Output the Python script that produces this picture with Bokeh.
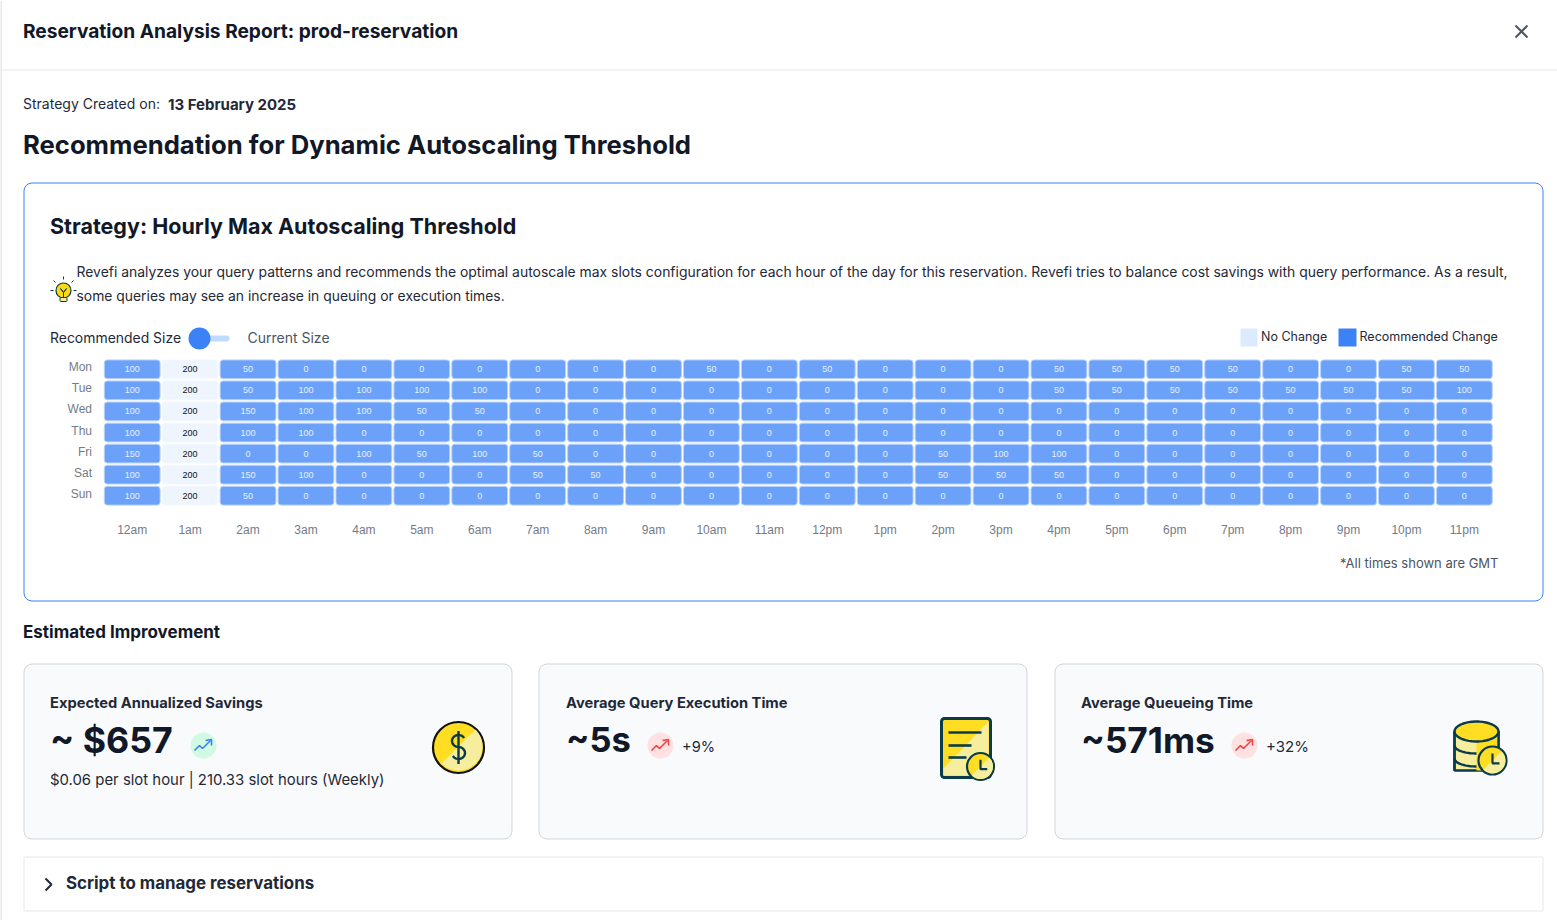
import numpy as np
from bokeh.core.properties import value
from bokeh.embed import file_html
from bokeh.resources import INLINE
from bokeh.plotting import figure
from bokeh.models import (BoxAnnotation, ColumnDataSource, FixedTicker, Label, LinearAxis,
                          PolyAnnotation, Range1d)
from bokeh.transform import dodge

# ---------- data ----------
hours = ["12am", "1am", "2am", "3am", "4am", "5am", "6am", "7am", "8am", "9am", "10am", "11am",
         "12pm", "1pm", "2pm", "3pm", "4pm", "5pm", "6pm", "7pm", "8pm", "9pm", "10pm", "11pm"]
days = ["Mon", "Tue", "Wed", "Thu", "Fri", "Sat", "Sun"]
mon = [100, 200, 50, 0, 0, 0, 0, 0, 0, 0, 50, 0, 50, 0, 0, 0, 50, 50, 50, 50, 0, 0, 50, 50]
tue = [100, 200, 50, 100, 100, 100, 100, 0, 0, 0, 0, 0, 0, 0, 0, 0, 50, 50, 50, 50, 50, 50, 50, 100]
wed = [100, 200, 150, 100, 100, 50, 50, 0, 0, 0, 0, 0, 0, 0, 0, 0, 0, 0, 0, 0, 0, 0, 0, 0]
thu = [100, 200, 100, 100, 0, 0, 0, 0, 0, 0, 0, 0, 0, 0, 0, 0, 0, 0, 0, 0, 0, 0, 0, 0]
fri = [150, 200, 0, 0, 100, 50, 100, 50, 0, 0, 0, 0, 0, 0, 50, 100, 100, 0, 0, 0, 0, 0, 0, 0]
sat = [100, 200, 150, 100, 0, 0, 0, 50, 50, 0, 0, 0, 0, 0, 50, 50, 50, 0, 0, 0, 0, 0, 0, 0]
sun = [100, 200, 50, 0, 0, 0, 0, 0, 0, 0, 0, 0, 0, 0, 0, 0, 0, 0, 0, 0, 0, 0, 0, 0]
no_change_hours = ["1am"]

FONT = "Inter"
INK = "#111827"
DARK = "#1f2937"
GREY = "#4b5563"
BLUE = "#3b82f6"
TEAL = "#0b3b4a"
YEL = "#ffdd22"
PALE = "#f6ee9c"

rows = [mon, tue, wed, thu, fri, sat, sun]
rec = dict(col=[], row=[], value=[], label=[], fill=[], edge=[], ink=[])
for j, row in enumerate(rows):
    for i, (hour, v) in enumerate(zip(hours, row)):
        same = hour in no_change_hours
        rec["col"].append(i)
        rec["row"].append(j)
        rec["value"].append(v)
        rec["label"].append(str(v))
        rec["fill"].append("#eef5ff" if same else "#6ba1f8")
        rec["edge"].append("#f4f8ff" if same else "#b9d2fb")
        rec["ink"].append("#111111" if same else "#e8f1ff")
source = ColumnDataSource(rec)

W, H = 1557, 920
COL0, COLW = 131.7, 57.92   # first column centre, column pitch
ROW0, ROWH = 368.8, 21.07   # first row centre, row pitch

p = figure(width=W, height=H, output_backend="svg", toolbar_location=None,
           x_range=Range1d(0, W), y_range=Range1d(H, 0),
           x_axis_type=None, y_axis_type=None,
           min_border=0, min_border_left=0, min_border_right=0, min_border_top=0, min_border_bottom=0,
           outline_line_color=None, background_fill_color="white", border_fill_color="white")
p.grid.visible = False
p.extra_x_ranges["hour"] = Range1d((0 - COL0) / COLW, (W - COL0) / COLW)
p.extra_y_ranges["day"] = Range1d((H - ROW0) / ROWH, (0 - ROW0) / ROWH)
LABEL_LIFT = 2.0
p.extra_y_ranges["day_label"] = Range1d((H - ROW0 + LABEL_LIFT) / ROWH, (0 - ROW0 + LABEL_LIFT) / ROWH)

xaxis = LinearAxis(x_range_name="hour", fixed_location=505, ticker=FixedTicker(ticks=list(range(len(hours)))),
                   major_label_overrides=dict(enumerate(hours)), major_label_standoff=17)
yaxis = LinearAxis(y_range_name="day_label", fixed_location=102.5, ticker=FixedTicker(ticks=list(range(len(days)))),
                   major_label_overrides=dict(enumerate(days)), major_label_standoff=11)
p.add_layout(xaxis, "below")
p.add_layout(yaxis, "left")
for ax, size in ((xaxis, "12px"), (yaxis, "12px")):
    ax.axis_line_color = None
    ax.major_tick_line_color = None
    ax.minor_tick_line_color = None
    ax.major_tick_out = 0
    ax.major_tick_in = 0
    ax.major_label_text_color = "#737b8a"
    ax.major_label_text_font = "Liberation Sans"
    ax.major_label_text_font_size = size


# ---------- page furniture, in page pixels ----------
def box(l, t, r, b, fill=None, line=None, lw=1, rad=0, level="underlay"):
    p.add_layout(BoxAnnotation(left=l, right=r, top=t, bottom=b,
                               left_units="canvas", right_units="canvas", top_units="canvas", bottom_units="canvas",
                               fill_color=fill, fill_alpha=1 if fill else 0,
                               line_color=line, line_alpha=1 if line else 0, line_width=lw,
                               border_radius=int(np.ceil(rad)), level=level))


def poly(xs, ys, fill=None, line=None, lw=1, level="annotation"):
    p.add_layout(PolyAnnotation(xs=list(xs), ys=list(ys),
                                xs_units="canvas", ys_units="canvas",
                                fill_color=fill, fill_alpha=1 if fill else 0,
                                line_color=line, line_alpha=1 if line else 0, line_width=lw, level=level))


def stroke(pts, color, lw=2):
    xs = [a for a, _ in pts]
    ys = [b for _, b in pts]
    poly(xs + xs[-2:0:-1], ys + ys[-2:0:-1], None, color, lw)


def arc(cx, cy, rx, ry, a0, a1, n=24):
    t = np.radians(np.linspace(a0, a1, n))
    return [(float(cx + rx * np.cos(v)), float(cy + ry * np.sin(v))) for v in t]


def disc(cx, cy, r, fill, line=None, lw=1):
    box(cx - r, cy - r, cx + r, cy + r, fill, line, lw, r, level="annotation")


def half(cx, cy, r, fill):
    pts = arc(cx, cy, r, r, -45, 135)
    poly([a for a, _ in pts], [b for _, b in pts], fill)


TX, TY = 0.5, 1   # text sits this far up-left of its nominal page position
def text(x, y, s, size, color=DARK, bold=False, align="left", font=FONT):
    p.add_layout(Label(x=x - TX, y=y - TY, x_units="canvas", y_units="canvas", text=s,
                       text_font=font, text_font_size=f"{size}px", text_color=color,
                       text_font_style="bold" if bold else "normal",
                       text_align=align, text_baseline="middle"))


def trend(cx, cy, color):
    stroke([(cx - 9, cy + 5), (cx - 4, cy), (cx - 1, cy + 3), (cx + 7, cy - 5)], color, 1.6)
    stroke([(cx + 2, cy - 5), (cx + 8, cy - 6), (cx + 8, cy)], color, 1.6)


def clock(cx, cy, r):
    disc(cx, cy, r, YEL, TEAL, 2.2)
    pts = arc(cx, cy, r - 1, r - 1, -45, 135)
    poly([a for a, _ in pts], [b for _, b in pts], PALE)
    stroke([(cx, cy - r * 0.5), (cx, cy + r * 0.2), (cx + r * 0.5, cy + r * 0.2)], TEAL, 2.2)


# header
text(23, 31, "Reservation Analysis Report: prod-reservation", 19.15, INK, True)
stroke([(1515, 25), (1527, 37)], GREY, 2)
stroke([(1527, 25), (1515, 37)], GREY, 2)
box(0, 69, W, 70, "#e5e7eb")
box(0, 0, 1, H, "#cbd5e1")
text(23, 104, "Strategy Created on:", 14, DARK)
text(168, 105, "13 February 2025", 15, DARK, True)
text(23, 145, "Recommendation for Dynamic Autoscaling Threshold", 25.65, INK, True)

# chart panel
box(23.5, 182.5, 1542.5, 600.5, "white", BLUE, 1, 8)
text(50, 226, "Strategy: Hourly Max Autoscaling Threshold", 21.5, INK, True)
text(76.5, 272, "Revefi analyzes your query patterns and recommends the optimal autoscale max slots configuration "
                "for each hour of the day for this reservation. Revefi tries to balance cost savings with query "
                "performance. As a result,", 13.93, DARK)
text(76.5, 296, "some queries may see an increase in queuing or execution times.", 13.88, DARK)

# heatmap
p.hbar(y="row", height=0.89, left=dodge("col", -0.482), right=dodge("col", 0.482), source=source,
       fill_color="fill", line_color="edge", line_width=1, border_radius=3,
       x_range_name="hour", y_range_name="day")
p.text(x="col", y="row", text="label", source=source, text_color="ink",
       text_align="center", text_baseline="middle", text_font=value("Liberation Sans"), text_font_size="9px",
       x_range_name="hour", y_range_name="day")

# bulb
disc(63, 290, 7.5, "#fbd915", "#0b3b4a", 1.2)
stroke([(60, 288), (63, 292), (66, 288)], TEAL, 1)
stroke([(63, 292), (63, 297)], TEAL, 1)
box(59.5, 297, 66.5, 301, PALE, TEAL, 1, 1, level="annotation")
for a, b, c, d in ((63, 276, 63, 279), (53, 280, 55, 282), (73, 280, 71, 282), (50, 290, 53, 290), (76, 290, 73, 290)):
    stroke([(a, b), (c, d)], TEAL, 1)

# toggle
text(50, 338, "Recommended Size", 13.95, DARK)
box(190, 335, 229, 341, "#bfdbfe", None, 1, 3, level="annotation")
disc(199, 338, 11, BLUE)
text(247.5, 338, "Current Size", 14, "#4b5563")

# legend
box(1240, 328, 1257, 346, "#dbeafe", None, level="annotation")
text(1261, 337, "No Change", 12.5, DARK)
box(1338, 328, 1356, 346, BLUE, None, level="annotation")
text(1359.5, 337, "Recommended Change", 12.5, DARK)
text(1498.5, 563, "*All times shown are GMT", 13, "#4b5563", align="right")

# improvement cards
text(23, 632, "Estimated Improvement", 17, INK, True)
for l, r in ((23.5, 511.5), (538.5, 1026.5), (1054.5, 1542.5)):
    box(l, 663.5, r, 838.5, "#f9fafc", "#d1d5db", 1, 8)

text(50, 703, "Expected Annualized Savings", 14.7, DARK, True)
text(50, 740, "~ $657", 35.7, INK, True)
disc(203, 745, 13, "#d1fae5")
trend(203, 745, BLUE)
text(50, 780, "$0.06 per slot hour | 210.33 slot hours (Weekly)", 14.9, DARK)

text(566, 703, "Average Query Execution Time", 14.7, DARK, True)
text(566, 740, "~5s", 34.5, INK, True)
disc(660, 745, 13, "#fee2e2")
trend(660, 745, "#ef4444")
text(682, 747, "+9%", 14.6, DARK)

text(1081, 703, "Average Queueing Time", 14.7, DARK, True)
text(1081, 740, "~571ms", 35.2, INK, True)
disc(1244, 745, 13, "#fee2e2")
trend(1244, 745, "#ef4444")
text(1266, 747, "+32%", 15, DARK)

# coin icon
disc(458, 747, 25.5, YEL, "#111111", 2.2)
half(458, 746, 24, PALE)
s = arc(458, 740.5, 6.5, 6, -30, -270) + arc(458, 752.5, 6.5, 6, -90, 150)
stroke(s, TEAL, 2.4)
stroke([(458, 730.5), (458, 763.5)], TEAL, 2.4)

# document icon
box(941, 718, 990, 777, YEL, TEAL, 3, 3, level="annotation")
poly([988, 988, 943, 943], [721, 775, 775, 768], PALE)
for y0, x1 in ((732, 981), (745, 971), (757, 966)):
    stroke([(948, y0), (x1, y0)], TEAL, 2.6)
clock(980, 766, 13.5)

# database icon
poly([1454, 1498, 1498, 1454], [731, 731, 770, 770], PALE, TEAL, 2.4)
poly([1476, 1498, 1498, 1476], [731, 731, 770, 770], YEL)
top = arc(1476, 731, 22, 10, 0, 360, 40)
poly([a for a, _ in top], [b for _, b in top], YEL, TEAL, 2.4)
for y0 in (745, 758):
    stroke(arc(1476, y0, 22, 8, 180, 90), TEAL, 2.4)
stroke([(1454, 731), (1454, 770)], TEAL, 2.4)
stroke([(1498, 731), (1498, 748)], TEAL, 2.4)
clock(1492, 760, 14)

# collapsed section
box(23.5, 856.5, 1542.5, 910.5, "white", "#e5e7eb", 1, 0)
stroke([(45, 878), (51, 884), (45, 890)], DARK, 2)
text(66, 883, "Script to manage reservations", 16.9, DARK, True)

open("out.html", "w").write(file_html(p, INLINE))
